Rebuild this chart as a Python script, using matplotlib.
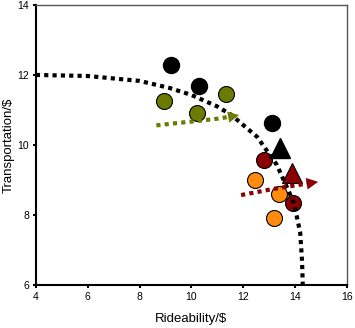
import matplotlib
matplotlib.use("Agg")
import matplotlib.pyplot as plt

plt.rcParams['font.family'] = ['Liberation Sans', 'DejaVu Sans']

# frontier curve
curve_x = [4, 6, 8, 9.15, 10, 11, 11.54, 12.54, 13.3, 13.96, 14.2, 14.27, 14.3]
curve_y = [12, 11.97, 11.83, 11.63, 11.43, 11.1, 10.86, 10.23, 9.43, 8.34, 7.5, 6.71, 6.0]

black_x = [9.23, 10.3, 13.1]
black_y = [12.27, 11.69, 10.64]
green_x = [8.96, 11.35, 10.2]
green_y = [11.27, 11.46, 10.91]
red_x = [12.8, 13.92]
red_y = [9.57, 8.33]
orange_x = [12.46, 13.38, 13.2]
orange_y = [9.0, 8.6, 7.92]

tri_black = (13.42, 9.9)
tri_red = (13.88, 9.2)

green_arrow_x = [8.65, 9.5, 10.3, 11.0, 11.6, 11.95]
green_arrow_y = [10.56, 10.63, 10.69, 10.75, 10.82, 10.87]
red_arrow_x = [11.92, 12.5, 13.12, 13.8, 14.5, 15.0]
red_arrow_y = [8.57, 8.65, 8.74, 8.82, 8.9, 8.96]

GREEN = '#6b7a00'
RED = '#8b0000'
ORANGE = '#ff8c0f'

fig = plt.figure(figsize=(3.55, 3.28), dpi=100)
ax = fig.add_axes([0.101, 0.131, 0.876, 0.854])

ms = 11.5
ax.plot(black_x, black_y, 'o', color='black', ms=ms, zorder=3)
ax.plot(green_x, green_y, 'o', color=GREEN, mec='black', mew=0.8, ms=ms, zorder=3)
ax.plot(red_x, red_y, 'o', color=RED, mec='black', mew=0.8, ms=ms, zorder=3)
ax.plot(orange_x, orange_y, 'o', color=ORANGE, mec='black', mew=0.8, ms=ms, zorder=3)
ax.plot(*tri_black, '^', color='black', ms=14, zorder=3)
ax.plot(*tri_red, '^', color=RED, mec='black', mew=0.8, ms=14, zorder=3)

ax.plot(curve_x, curve_y, color='black', lw=3, dashes=(1, 1), zorder=4)

ax.plot(green_arrow_x[:-1], green_arrow_y[:-1], color=GREEN, lw=3, dashes=(1, 1), zorder=4)
ax.annotate('', xy=(green_arrow_x[-1], green_arrow_y[-1]),
            xytext=(green_arrow_x[-2], green_arrow_y[-2]),
            arrowprops=dict(arrowstyle='-|>', color=GREEN, lw=0, mutation_scale=20),
            zorder=4)
ax.plot(red_arrow_x[:-1], red_arrow_y[:-1], color=RED, lw=3, dashes=(1, 1), zorder=4)
ax.annotate('', xy=(red_arrow_x[-1], red_arrow_y[-1]),
            xytext=(red_arrow_x[-2], red_arrow_y[-2]),
            arrowprops=dict(arrowstyle='-|>', color=RED, lw=0, mutation_scale=21),
            zorder=4)

ax.set_xlim(4, 16)
ax.set_ylim(6, 14)
ax.set_xticks([4, 6, 8, 10, 12, 14, 16])
ax.set_yticks([6, 8, 10, 12, 14])
ax.tick_params(direction='out', length=2, width=1.5, labelsize=7.5, pad=3)
for s in ['left', 'bottom']:
    ax.spines[s].set_linewidth(1.5)
for s in ['top', 'right']:
    ax.spines[s].set_color('#555555')
    ax.spines[s].set_linewidth(1.0)

ax.set_xlabel('Rideability/$', fontsize=9.5, labelpad=8)
ax.set_ylabel('Transportation/$', fontsize=9.5, labelpad=1.5)

fig.savefig('out.png', dpi=100)
